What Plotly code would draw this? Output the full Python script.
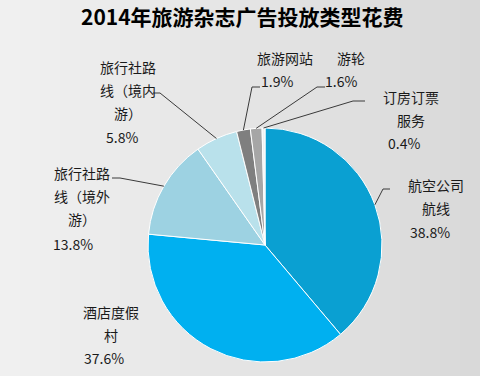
import math
import plotly.graph_objects as go

W, H = 480, 376

categories = ["航空公司航线", "酒店度假村", "旅行社路线（境外游）", "旅行社路线（境内游）", "旅游网站", "游轮", "订房订票服务"]
values = [38.8, 37.6, 13.8, 5.8, 1.9, 1.6, 0.4]
pct_labels = ["38.8%", "37.6%", "13.8%", "5.8%", "1.9%", "1.6%", "0.4%"]
label_lines = [
    ["航空公司", "航线"],
    ["酒店度假", "村"],
    ["旅行社路", "线（境外", "游）"],
    ["旅行社路", "线（境内", "游）"],
    ["旅游网站"],
    ["游轮"],
    ["订房订票", "服务"],
]
colors = ["#0aa0d2", "#00b0f0", "#9dd2e2", "#b9e1eb", "#7f7f7f", "#a6a6a6", "#f2f2f2"]

# layout (pixel positions)
cx, cy, R = 265, 245, 117
label_pos = [(436, 185), (111, 312), (82, 173), (128, 67), (285, 58), (351, 58), (411, 97)]
pct_pos = [(430, 232), (104, 358), (73, 244), (122, 137), (277, 81), (341, 81), (404, 143)]
line_step = 23
elbows = [((383, 189), (390, 189)), None, ((120, 178), (112, 178)), ((160, 93), (153, 93)),
          ((252, 87), (260, 87)), ((317, 87), (325, 87)), ((353, 101), (365, 101))]

def px(x):
    return x / W

def py(y):
    return 1 - y / H

fig = go.Figure()
fig.add_trace(go.Pie(
    labels=categories, values=values, sort=False, direction="clockwise", rotation=0,
    marker=dict(colors=colors, line=dict(color="white", width=1)),
    textinfo="none", hoverinfo="label+percent", showlegend=False,
    domain=dict(x=[px(cx - R), px(cx + R)], y=[py(cy + R), py(cy - R)]),
))

shapes = []
N = 48
for i in range(N):
    t = i / (N - 1)
    c = int(round(0xf0 + (0xd9 - 0xf0) * t))
    shapes.append(dict(type="rect", xref="paper", yref="paper", x0=i / N, x1=(i + 1) / N + 0.002,
                       y0=0, y1=1, fillcolor=f"rgb({c},{c},{c})", line=dict(width=0), layer="below"))

total = sum(values)
cum = 0
for v, el in zip(values, elbows):
    mid = (cum + v / 2) / total * 2 * math.pi
    cum += v
    if el is None:
        continue
    sx = cx + R * math.sin(mid)
    sy = cy - R * math.cos(mid)
    (ex, ey), (fx, fy) = el
    path = f"M {px(sx)},{py(sy)} L {px(ex)},{py(ey)} L {px(fx)},{py(fy)}"
    shapes.append(dict(type="path", xref="paper", yref="paper", path=path,
                       line=dict(color="#3a3a3a", width=1)))

annotations = [dict(text="<b>2014年旅游杂志广告投放类型花费</b>", x=px(242), y=py(16), xref="paper", yref="paper",
                    showarrow=False, font=dict(size=21, color="#000000"), xanchor="center", yanchor="middle")]
for lines, (lx, ly), pct, (qx, qy) in zip(label_lines, label_pos, pct_labels, pct_pos):
    for k, t in enumerate(lines):
        annotations.append(dict(text=t, x=px(lx), y=py(ly + k * line_step), xref="paper", yref="paper",
                                showarrow=False, font=dict(size=14, color="#1a1a1a"),
                                xanchor="center", yanchor="middle"))
    annotations.append(dict(text=pct, x=px(qx), y=py(qy), xref="paper", yref="paper",
                            showarrow=False, font=dict(size=14, color="#1a1a1a"),
                            xanchor="center", yanchor="middle"))

fig.update_layout(
    width=W, height=H, margin=dict(l=0, r=0, t=0, b=0),
    paper_bgcolor="#e6e6e6", plot_bgcolor="#e6e6e6",
    font=dict(family="Noto Sans CJK SC, Noto Sans, sans-serif"),
    shapes=shapes, annotations=annotations,
)
fig.write_html("out.html", config={"displayModeBar": False},
               post_script="document.body.style.margin='0';document.body.style.padding='0';document.body.style.overflow='hidden';")
